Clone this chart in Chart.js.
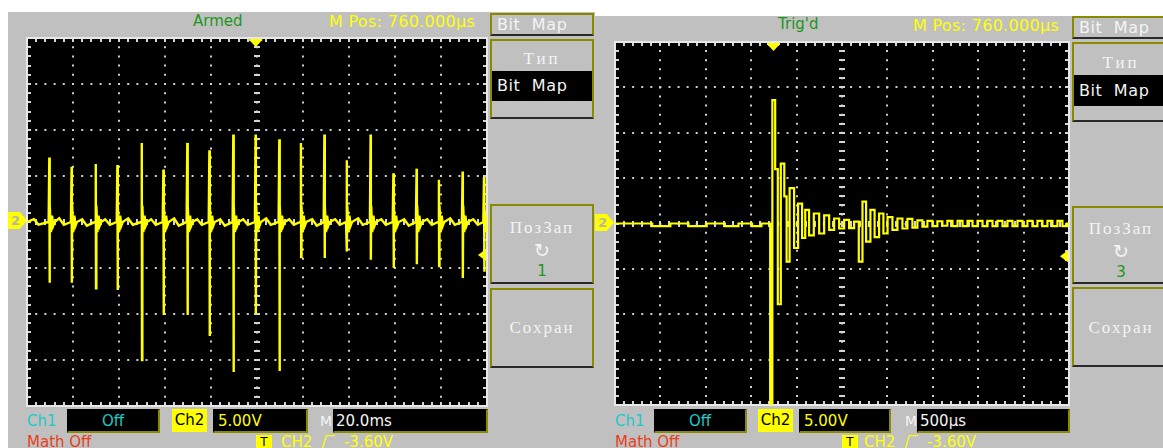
<!DOCTYPE html>
<html><head><meta charset="utf-8">
<script src="https://cdn.jsdelivr.net/npm/chart.js@4.4.0/dist/chart.umd.min.js"></script>
<style>
html,body{margin:0;padding:0;background:#fff;width:1163px;height:448px;overflow:hidden;position:relative;font-family:"DejaVu Sans",sans-serif;}
.panel{position:absolute;background:#c0c0c0;}
.box{position:absolute;box-sizing:border-box;border:2px solid #8a8a00;border-bottom-color:#2a2a2a;background:#c0c0c0;overflow:hidden;}
.blk{position:absolute;box-sizing:border-box;background:#000;border:1px solid #000;border-right:2px solid #8a8a00;border-bottom:2px solid #8a8a00;}
.t{position:absolute;white-space:nowrap;line-height:1;}
.ser{font-family:"Liberation Serif","DejaVu Serif",serif;color:#f4f4f4;letter-spacing:2px;}
.bm{color:#f4f4f4;font-size:16px;letter-spacing:0.6px;}
.sym{font-family:"DejaVu Sans",sans-serif;color:#f4f4f4;font-size:19px;}
.band{position:absolute;left:0;right:0;background:#000;}
.gnd{position:absolute;width:19px;height:17px;background:#ffff00;clip-path:polygon(0 0,62% 0,100% 50%,62% 100%,0 100%);color:#b8b8a0;font-size:13px;line-height:17px;text-indent:3px;font-weight:bold;}
.scr{position:absolute;}
</style></head><body>
<div class="panel" style="left:8px;top:12px;width:587px;height:436px"></div>
<div class="panel" style="left:595px;top:16px;width:568px;height:432px"></div>

<!-- left scope UI -->
<div class="t" style="left:193px;top:14px;color:#1c961c;font-size:15px">Armed</div>
<div class="t" style="left:329px;top:14px;color:#ffff00;font-size:16px;letter-spacing:0.3px">M Pos: 760.000µs</div>
<div class="box" style="left:490px;top:13px;width:104px;height:23px"><div class="t bm" style="left:5px;top:2px">Bit&nbsp;&nbsp;Map</div></div>
<div class="box" style="left:490px;top:39px;width:104px;height:80px">
  <div class="t ser" style="left:0;right:0;text-align:center;top:9px;font-size:17px;letter-spacing:3px">Тип</div>
  <div class="band" style="top:30px;height:30px"><div class="t bm" style="left:5px;top:7px">Bit&nbsp;&nbsp;Map</div></div>
</div>
<div class="box" style="left:490px;top:204px;width:104px;height:80px">
  <div class="t ser" style="left:0;right:0;text-align:center;top:13px;font-size:17px">ПозЗап</div>
  <div class="t sym" style="left:0;right:0;text-align:center;top:35px">↻</div>
  <div class="t" style="left:0;right:0;text-align:center;top:58px;font-size:15px;color:#1c961c">1</div>
</div>
<div class="box" style="left:490px;top:288px;width:104px;height:80px">
  <div class="t ser" style="left:0;right:0;text-align:center;top:29px;font-size:17px">Сохран</div>
</div>
<div class="t" style="left:27px;top:414px;color:#1ec8c8;font-size:15px">Ch1</div>
<div class="blk" style="left:67px;top:409px;width:93px;height:24px"><div class="t" style="left:0;right:0;text-align:center;top:4px;color:#1ec8c8;font-size:15px">Off</div></div>
<div class="t" style="left:172px;top:409px;width:35px;height:23px;background:#ffff00;color:#000;font-size:15px;line-height:23px;text-align:center">Ch2</div>
<div class="blk" style="left:213px;top:409px;width:95px;height:24px"><div class="t" style="left:4px;top:4px;color:#ffff00;font-size:15px">5.00V</div></div>
<div class="t" style="left:320px;top:414px;color:#f4f4f4;font-size:14px">M</div>
<div class="blk" style="left:333px;top:409px;width:155px;height:24px"><div class="t" style="left:2px;top:4px;color:#f4f4f4;font-size:15px">20.0ms</div></div>
<div class="t" style="left:27px;top:435px;color:#e8401c;font-size:15px">Math Off</div>
<div class="t" style="left:256px;top:435px;width:16px;height:15px;background:#ffff00;color:#000;font-size:12px;line-height:15px;text-align:center">T</div>
<div class="t" style="left:281px;top:435px;color:#ffff00;font-size:15px">CH2 &nbsp;/‾ &nbsp;-3.60V</div>
<div class="gnd" style="left:8px;top:212px">2</div>

<!-- right scope UI -->
<div class="t" style="left:778px;top:17px;color:#1c961c;font-size:15px">Trig'd</div>
<div class="t" style="left:913px;top:18px;color:#ffff00;font-size:16px;letter-spacing:0.3px">M Pos: 760.000µs</div>
<div class="box" style="left:1072px;top:16px;width:104px;height:23px"><div class="t bm" style="left:5px;top:2px">Bit&nbsp;&nbsp;Map</div></div>
<div class="box" style="left:1072px;top:42px;width:104px;height:80px">
  <div class="t ser" style="left:0;right:6px;text-align:center;top:10px;font-size:17px;letter-spacing:3px">Тип</div>
  <div class="band" style="top:31px;height:31px"><div class="t bm" style="left:5px;top:8px">Bit&nbsp;&nbsp;Map</div></div>
</div>
<div class="box" style="left:1072px;top:206px;width:104px;height:78px">
  <div class="t ser" style="left:0;right:6px;text-align:center;top:12px;font-size:17px">ПозЗап</div>
  <div class="t sym" style="left:0;right:6px;text-align:center;top:34px">↻</div>
  <div class="t" style="left:0;right:6px;text-align:center;top:57px;font-size:15px;color:#1c961c">3</div>
</div>
<div class="box" style="left:1072px;top:287px;width:104px;height:80px">
  <div class="t ser" style="left:0;right:6px;text-align:center;top:30px;font-size:17px">Сохран</div>
</div>
<div class="t" style="left:615px;top:414px;color:#1ec8c8;font-size:15px">Ch1</div>
<div class="blk" style="left:654px;top:409px;width:93px;height:24px"><div class="t" style="left:0;right:0;text-align:center;top:4px;color:#1ec8c8;font-size:15px">Off</div></div>
<div class="t" style="left:758px;top:409px;width:35px;height:23px;background:#ffff00;color:#000;font-size:15px;line-height:23px;text-align:center">Ch2</div>
<div class="blk" style="left:799px;top:409px;width:92px;height:24px"><div class="t" style="left:4px;top:4px;color:#ffff00;font-size:15px">5.00V</div></div>
<div class="t" style="left:905px;top:414px;color:#f4f4f4;font-size:14px">M</div>
<div class="blk" style="left:917px;top:409px;width:153px;height:24px"><div class="t" style="left:2px;top:4px;color:#f4f4f4;font-size:15px">500µs</div></div>
<div class="t" style="left:615px;top:435px;color:#e8401c;font-size:15px">Math Off</div>
<div class="t" style="left:842px;top:435px;width:16px;height:15px;background:#ffff00;color:#000;font-size:12px;line-height:15px;text-align:center">T</div>
<div class="t" style="left:864px;top:435px;color:#ffff00;font-size:15px">CH2 &nbsp;/‾ &nbsp;-3.60V</div>
<div class="gnd" style="left:595px;top:214px">2</div>

<canvas id="cL" class="scr" width="463" height="371" style="left:26px;top:37px"></canvas>
<canvas id="cR" class="scr" width="457" height="366" style="left:614px;top:41px"></canvas>

<script>
// ---------- data ----------
// Left capture: 20.0 ms/div, 5.00 V/div
const leftSpikeTimeMs = [9.7, 19.4, 29.9, 39.3, 49.9, 59.3, 69.7, 79.3, 89.7, 99.4, 109.7, 119.1, 129.3, 139.0, 149.4, 159.3, 169.4, 179.1, 189.4, 198.7];
const leftSpikePeakV  = [7.0, 6.0, 6.3, 6.2, 8.6, 5.7, 8.6, 7.8, 9.5, 9.5, 9.0, 8.6, 9.5, 6.7, 9.5, 5.3, 5.8, 4.6, 5.5, 4.9];
const leftSpikeTroughV= [-6.6, -6.6, -7.2, -7.4, -15.0, -10.1, -10.1, -12.4, -16.3, -10.0, -16.2, -3.8, -3.9, -3.2, -4.1, -5.0, -4.6, -4.8, -6.1, -5.4];
const leftRingOffsetMs = [0.25, 0.7, 1.2, 1.7, 2.3];
const leftRingV        = [1.8, -1.1, 0.7, -0.4, 0];
const leftNoiseTimeMs  = [3, 5, 14, 16, 24, 26, 34, 36, 44, 46, 54, 56, 64, 66, 74, 76, 84, 86, 94, 96, 104, 106, 114, 116, 124, 126, 134, 136, 144, 146, 154, 156, 164, 166, 174, 176, 184, 186, 194, 196];
const leftNoiseV       = [0.3, -0.3, 0.4, -0.3, 0.3, -0.4, 0.3, -0.3, 0.4, -0.3, 0.3, -0.3, 0.4, -0.4, 0.3, -0.3, 0.3, -0.4, 0.3, -0.3, 0.4, -0.3, 0.3, -0.3, 0.3, -0.4, 0.3, -0.3, 0.4, -0.3, 0.3, -0.3, 0.3, -0.4, 0.3, -0.3, 0.4, -0.3, 0.3, -0.3];

// Right capture: 500 µs/div, 5.00 V/div
const rightTimeUs = [0, 400, 420, 800, 820, 1200, 1220, 1500, 1520, 1706,
  1712, 1730, 1736, 1762, 1766, 1788, 1798, 1817, 1835, 1861, 1868, 1883, 1897, 1912,
  1934, 1956, 1989, 2007, 2026, 2048, 2073, 2117, 2158, 2221, 2276, 2331, 2386, 2441,
  2496, 2551, 2606, 2661, 2709, 2742, 2789, 2837, 2881, 2936, 2976, 3028, 3083, 3138,
  3193, 3248, 3303, 3358, 3413, 3468, 3523, 3578, 3633, 3688, 3745, 3800, 3855, 3910,
  3965, 4020, 4075, 4130, 4185, 4240, 4295, 4350, 4405, 4460, 4515, 4570, 4625, 4680,
  4735, 4790, 4845, 4900, 4955, 5000];
const rightVoltV = [0, 0, -0.3, 0, -0.3, 0, -0.3, 0, -0.3, 0,
  -22, -22, 13.6, 13.6, 6.0, 6.0, -8.9, -8.9, 6.6, 6.6, 3.0, 3.0, -4.2, -4.2,
  3.9, 3.9, -2.7, -2.7, 2.2, 2.2, -1.6, 1.5, -1.3, 1.1, -1.1, 0.9, -0.7, 0.55,
  -0.55, 0.4, -0.5, 0.2, -4.2, 2.4, -2.0, 1.5, -1.5, 1.1, -1.1, 0.7, -0.7, 0.55,
  -0.55, 0.5, -0.45, 0.35, -0.35, 0.3, -0.3, 0.25, -0.25, 0.3, -0.3, 0.3, -0.3, 0.3,
  -0.3, 0.3, -0.3, 0.3, -0.3, 0.3, -0.3, 0.3, -0.3, 0.3, -0.3, 0.3, -0.3, 0.3,
  -0.3, 0.3, -0.3, 0.3, -0.3, 0];

const triggerLevelV = -3.60;
const mPosUs = 760;

// ---------- build traces ----------
const leftPts = [{x:0, y:0}, {x:200, y:0}];
leftNoiseTimeMs.forEach((t, i) => leftPts.push({x:t, y:leftNoiseV[i]}));
leftSpikeTimeMs.forEach((t, i) => {
  leftPts.push({x:t - 0.3, y:0});
  leftPts.push({x:t, y:leftSpikePeakV[i]});
  leftPts.push({x:t + 0.1, y:leftSpikeTroughV[i]});
  leftRingOffsetMs.forEach((o, k) => leftPts.push({x:t + o, y:leftRingV[k]}));
});
const leftTrace = leftPts.sort((a, b) => a.x - b.x);
const rightTrace = rightTimeUs.map((t, i) => ({x:t, y:rightVoltV[i]}));

// ---------- graticule plugin (uses the chart's scales) ----------
const graticule = {
  id: 'graticule',
  beforeDraw(chart) {
    const {ctx, chartArea:a} = chart;
    ctx.save(); ctx.fillStyle = '#000';
    ctx.fillRect(a.left, a.top, a.right - a.left, a.bottom - a.top);
    ctx.restore();
  },
  beforeDatasetsDraw(chart, args, o) {
    const {ctx, chartArea:a, scales:{x, y}} = chart;
    const nx = 50, ny = 40;
    const cx = Math.round(x.getPixelForValue((x.min + x.max) / 2));
    const cy = Math.round(y.getPixelForValue((y.min + y.max) / 2));
    ctx.save();
    ctx.fillStyle = '#d4d4d4';
    for (let i = 1; i < nx; i++) {
      const px = Math.round(x.getPixelForValue(x.min + (x.max - x.min) * i / nx));
      ctx.fillRect(px - 1, a.top, 2, 4);
      ctx.fillRect(px - 1, a.bottom - 4, 2, 4);
      ctx.fillRect(px - 1, cy - 3, 2, 6);
    }
    for (let j = 1; j < ny; j++) {
      const py = Math.round(y.getPixelForValue(y.min + (y.max - y.min) * j / ny));
      ctx.fillRect(a.left, py - 1, 4, 2);
      ctx.fillRect(a.right - 4, py - 1, 4, 2);
      ctx.fillRect(cx - 3, py - 1, 6, 2);
    }
    ctx.strokeStyle = '#e8e8e8'; ctx.lineWidth = 2;
    ctx.strokeRect(a.left, a.top, a.right - a.left, a.bottom - a.top);
    ctx.restore();
  },
  afterDatasetsDraw(chart, args, o) {
    const {ctx, chartArea:a, scales:{x, y}} = chart;
    ctx.save();
    ctx.fillStyle = '#ffff00';
    const ty = y.getPixelForValue(o.level);
    ctx.beginPath();
    ctx.moveTo(a.right - 9, ty); ctx.lineTo(a.right - 1, ty - 6); ctx.lineTo(a.right - 1, ty + 6);
    ctx.closePath(); ctx.fill();
    const tx = x.getPixelForValue(o.pos);
    ctx.fillRect(tx - 6, a.top + 1, 13, 2);
    ctx.beginPath();
    ctx.moveTo(tx - 6, a.top + 2); ctx.lineTo(tx + 7, a.top + 2); ctx.lineTo(tx + 0.5, a.top + 9);
    ctx.closePath(); ctx.fill();
    ctx.restore();
  }
};

function scopeChart(id, data, xMax, xStep, minorPx, level, pos, width, stepped) {
  const gridCommon = {color:'#cfcfcf', lineWidth:2, drawTicks:false};
  return new Chart(document.getElementById(id), {
    type: 'line',
    data: {datasets: [{data, borderColor:'#ffff00', borderWidth:width, pointRadius:0, tension:0, fill:false, stepped}]},
    options: {
      responsive:false, animation:false, devicePixelRatio:1, parsing:false,
      layout:{padding:{left:1, top:1, right:2, bottom:2}},
      plugins:{legend:{display:false}, tooltip:{enabled:false}, graticule:{level, pos}},
      scales: {
        x: {type:'linear', min:0, max:xMax, afterFit(s){s.height = 0;},
            ticks:{display:false, stepSize:xStep}, grid:gridCommon,
            border:{display:false, dash:[2, minorPx - 2], dashOffset:1}},
        y: {type:'linear', min:-20, max:20, afterFit(s){s.width = 0;},
            ticks:{display:false, stepSize:5}, grid:gridCommon,
            border:{display:false, dash:[2, minorPx - 2], dashOffset:1}}
      }
    },
    plugins: [graticule]
  });
}

scopeChart('cL', leftTrace, 200, 20, 9.2, triggerLevelV, 100 - mPosUs / 1000, 2.4, false);
scopeChart('cR', rightTrace, 5000, 500, 9.08, triggerLevelV, 2500 - mPosUs, 2.2, 'middle');
</script>
</body></html>
